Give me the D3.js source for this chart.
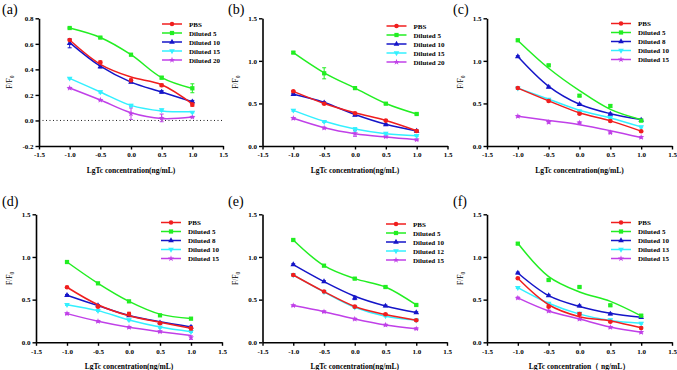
<!DOCTYPE html>
<html><head><meta charset="utf-8">
<script src="https://cdn.jsdelivr.net/npm/d3@7"></script>
<style>
body{margin:0;background:#fff;}
svg{display:block;}
</style></head>
<body>
<svg id="chart" width="677" height="370"></svg>
<script>
// ---- data ----
const xValues = [-1, -0.5, 0, 0.5, 1];
const xTicks = [-1.5, -1, -0.5, 0, 0.5, 1, 1.5];
const yTicksA = [-0.2, 0, 0.2, 0.4, 0.6, 0.8];
const yTicksB = [0, 0.5, 1.0, 1.5];
const seriesColors = ["#f01e1e", "#22ee22", "#1515c8", "#33f0ff", "#c040e8"];
const panelLabels = ["(a)", "(b)", "(c)", "(d)", "(e)", "(f)"];
const xTitles = ["LgTc concentration(ng/mL)", "LgTc concentration(ng/mL)", "LgTc concentration(ng/mL)",
                 "LgTc concentration(ng/mL)", "LgTc concentration(ng/mL)", "LgTc concentration（ ng/mL）"];

const aNames = ["PBS", "Diluted 5", "Diluted 10", "Diluted 15", "Diluted 20"];
const aPoints = [[0.63, 0.455, 0.314, 0.275, 0.124],
                 [0.724, 0.649, 0.515, 0.335, 0.252],
                 [0.604, 0.421, 0.30, 0.223, 0.147],
                 [0.33, 0.223, 0.118, 0.082, 0.064],
                 [0.254, 0.16, 0.053, 0.02, 0.027]];
const aFit = [[0.63, 0.44, 0.34, 0.28, 0.13],
              [0.724, 0.65, 0.515, 0.335, 0.25],
              [0.61, 0.425, 0.30, 0.223, 0.147],
              [0.33, 0.223, 0.118, 0.075, 0.068],
              [0.254, 0.16, 0.06, 0.015, 0.027]];
const aErr = [[0.005, 0.01, 0.01, 0.01, 0.012],
              [0.005, 0.005, 0.008, 0.01, 0.035],
              [0.035, 0.01, 0.005, 0.01, 0.01],
              [0.005, 0.008, 0.008, 0.008, 0.005],
              [0.005, 0.005, 0.045, 0.03, 0.005]];

const bNames = ["PBS", "Diluted 5", "Diluted 10", "Diluted 15", "Diluted 20"];
const bPoints = [[0.642, 0.497, 0.384, 0.298, 0.176],
                 [1.097, 0.854, 0.68, 0.497, 0.376],
                 [0.607, 0.509, 0.364, 0.25, 0.176],
                 [0.419, 0.286, 0.196, 0.149, 0.121],
                 [0.325, 0.212, 0.149, 0.11, 0.074]];
const bFit = [[0.642, 0.50, 0.39, 0.30, 0.18],
              [1.097, 0.86, 0.68, 0.50, 0.376],
              [0.607, 0.512, 0.37, 0.255, 0.176],
              [0.419, 0.29, 0.20, 0.145, 0.121],
              [0.325, 0.215, 0.145, 0.105, 0.074]];
const bErr = [[0.01, 0.01, 0.01, 0.01, 0.01],
              [0.01, 0.065, 0.01, 0.01, 0.01],
              [0.01, 0.01, 0.01, 0.01, 0.01],
              [0.01, 0.01, 0.02, 0.01, 0.01],
              [0.01, 0.01, 0.035, 0.01, 0.01]];

const cNames = ["PBS", "Diluted 5", "Diluted 8", "Diluted 10", "Diluted 15"];
const cPoints = [[0.68, 0.529, 0.38, 0.294, 0.172],
                 [1.242, 0.948, 0.591, 0.47, 0.298],
                 [1.05, 0.693, 0.49, 0.376, 0.305],
                 [0.68, 0.548, 0.41, 0.333, 0.223],
                 [0.349, 0.278, 0.274, 0.157, 0.102]];
const cFit = [[0.68, 0.53, 0.39, 0.295, 0.175],
              [1.24, 0.913, 0.65, 0.43, 0.31],
              [1.05, 0.70, 0.49, 0.38, 0.31],
              [0.68, 0.55, 0.42, 0.33, 0.225],
              [0.35, 0.30, 0.25, 0.18, 0.10]];
const cErr = [[0.01, 0.01, 0.01, 0.01, 0.01],
              [0.01, 0.01, 0.01, 0.015, 0.01],
              [0.01, 0.01, 0.01, 0.01, 0.01],
              [0.01, 0.01, 0.01, 0.01, 0.01],
              [0.01, 0.01, 0.01, 0.01, 0.01]];

const dNames = ["PBS", "Diluted 5", "Diluted 8", "Diluted 10", "Diluted 15"];
const dPoints = [[0.645, 0.418, 0.332, 0.223, 0.164],
                 [0.941, 0.691, 0.48, 0.316, 0.277],
                 [0.551, 0.43, 0.313, 0.23, 0.18],
                 [0.441, 0.371, 0.262, 0.176, 0.125],
                 [0.336, 0.246, 0.176, 0.125, 0.055]];
const dFit = [[0.645, 0.44, 0.31, 0.235, 0.165],
              [0.941, 0.691, 0.48, 0.33, 0.28],
              [0.551, 0.43, 0.315, 0.24, 0.18],
              [0.441, 0.371, 0.262, 0.18, 0.125],
              [0.336, 0.246, 0.176, 0.125, 0.08]];
const dErr = [[0.01, 0.01, 0.02, 0.01, 0.02],
              [0.01, 0.01, 0.01, 0.01, 0.01],
              [0.01, 0.01, 0.01, 0.01, 0.01],
              [0.01, 0.01, 0.01, 0.01, 0.01],
              [0.01, 0.01, 0.01, 0.01, 0.02]];

const eNames = ["PBS", "Diluted 5", "Diluted 10", "Diluted 12", "Diluted 15"];
const ePoints = [[0.789, 0.594, 0.418, 0.328, 0.258],
                 [1.199, 0.898, 0.746, 0.648, 0.4375],
                 [0.91, 0.711, 0.52, 0.426, 0.348],
                 [0.79, 0.59, 0.41, 0.31, 0.26],
                 [0.43, 0.359, 0.273, 0.203, 0.16]];
const eFit = [[0.789, 0.594, 0.42, 0.325, 0.258],
              [1.199, 0.898, 0.746, 0.648, 0.4375],
              [0.91, 0.711, 0.54, 0.426, 0.348],
              [0.79, 0.59, 0.41, 0.305, 0.26],
              [0.43, 0.359, 0.273, 0.203, 0.16]];
const eErr = [[0.01, 0.01, 0.01, 0.01, 0.01],
              [0.01, 0.01, 0.01, 0.01, 0.01],
              [0.01, 0.01, 0.02, 0.01, 0.01],
              [0.01, 0.01, 0.01, 0.01, 0.01],
              [0.01, 0.01, 0.01, 0.01, 0.01]];

const fNames = ["PBS", "Diluted 5", "Diluted 10", "Diluted 13", "Diluted 15"];
const fPoints = [[0.75, 0.418, 0.332, 0.242, 0.168],
                 [1.156, 0.73, 0.648, 0.434, 0.3125],
                 [0.8125, 0.547, 0.426, 0.332, 0.293],
                 [0.64, 0.457, 0.34, 0.262, 0.223],
                 [0.52, 0.367, 0.273, 0.176, 0.117]];
const fFit = [[0.75, 0.44, 0.30, 0.25, 0.17],
              [1.16, 0.77, 0.59, 0.48, 0.31],
              [0.8125, 0.547, 0.42, 0.34, 0.293],
              [0.64, 0.457, 0.33, 0.255, 0.223],
              [0.52, 0.367, 0.273, 0.18, 0.117]];
const fErr = [[0.01, 0.01, 0.015, 0.01, 0.01],
              [0.01, 0.01, 0.01, 0.01, 0.01],
              [0.01, 0.01, 0.01, 0.01, 0.01],
              [0.01, 0.01, 0.01, 0.01, 0.01],
              [0.01, 0.01, 0.01, 0.01, 0.01]];

// ---- layout (positions only) ----
const layouts = [
  {x0: 39, x1: 223, y0: 18.3, y1: 146, yDom: [-0.2, 0.8], yTicks: yTicksA, names: aNames, pts: aPoints, fit: aFit, err: aErr, zero: true, lx: 2, ly: 14, tx: 12, legY: 24},
  {x0: 262.5, x1: 447.5, y0: 18.3, y1: 146, yDom: [0, 1.5], yTicks: yTicksB, names: bNames, pts: bPoints, fit: bFit, err: bErr, zero: false, lx: 228, ly: 14, tx: 238, legY: 26},
  {x0: 487, x1: 672, y0: 18.3, y1: 146, yDom: [0, 1.5], yTicks: yTicksB, names: cNames, pts: cPoints, fit: cFit, err: cErr, zero: false, lx: 453, ly: 14, tx: 463, legY: 23.5},
  {x0: 36, x1: 222, y0: 214.3, y1: 342.3, yDom: [0, 1.5], yTicks: yTicksB, names: dNames, pts: dPoints, fit: dFit, err: dErr, zero: false, lx: 2, ly: 206, tx: 12, legY: 222.5},
  {x0: 262.5, x1: 447, y0: 214.3, y1: 342.3, yDom: [0, 1.5], yTicks: yTicksB, names: eNames, pts: ePoints, fit: eFit, err: eErr, zero: false, lx: 228, ly: 206, tx: 238, legY: 224},
  {x0: 487, x1: 672, y0: 214.3, y1: 342.3, yDom: [0, 1.5], yTicks: yTicksB, names: fNames, pts: fPoints, fit: fFit, err: fErr, zero: false, lx: 453, ly: 206, tx: 463, legY: 222.5}
];

const symbols = [d3.symbolCircle, d3.symbolSquare, d3.symbolTriangle, d3.symbolTriangle, d3.symbolStar];
const symSizes = [16, 18, 14, 14, 12];
const symRot = [0, 0, 0, 180, 0];
const fmt = d => (Math.abs(d) < 1e-9 ? 0 : d).toFixed(1);
const serif = "'Liberation Serif','Times New Roman',serif";

const svg = d3.select("#chart");

layouts.forEach((L, pi) => {
  const x = d3.scaleLinear().domain([-1.5, 1.5]).range([L.x0, L.x1]);
  const y = d3.scaleLinear().domain(L.yDom).range([L.y1, L.y0]);
  const g = svg.append("g");

  // panel label
  svg.append("text").attr("x", L.lx).attr("y", L.ly)
    .attr("font-family", serif).attr("font-size", 14).text(panelLabels[pi]);

  // zero dotted line
  if (L.zero) {
    g.append("line").attr("x1", x(-1.5)).attr("x2", x(1.5)).attr("y1", y(0)).attr("y2", y(0))
      .attr("stroke", "#222").attr("stroke-width", 1).attr("stroke-dasharray", "1,2.5");
  }

  // axes
  const xa = g.append("g").attr("transform", `translate(0,${L.y1})`)
    .call(d3.axisBottom(x).tickValues(xTicks).tickFormat(fmt).tickSize(3.5).tickSizeOuter(0).tickPadding(3));
  const ya = g.append("g").attr("transform", `translate(${L.x0},0)`)
    .call(d3.axisLeft(y).tickValues(L.yTicks).tickFormat(fmt).tickSize(3.5).tickSizeOuter(0).tickPadding(2));
  [xa, ya].forEach(a => {
    a.select(".domain").attr("stroke", "#000").attr("stroke-width", 1.6);
    a.selectAll(".tick line").attr("stroke", "#000").attr("stroke-width", 1.4);
    a.selectAll(".tick text").attr("font-family", serif).attr("font-size", 7)
      .attr("font-weight", "bold").attr("fill", "#000");
  });

  // axis titles
  g.append("text").attr("x", (L.x0 + L.x1) / 2).attr("y", L.y1 + 27)
    .attr("text-anchor", "middle").attr("font-family", serif).attr("font-weight", "bold")
    .attr("font-size", 7.5).text(xTitles[pi]);
  const yt = g.append("text").attr("transform", `translate(${L.tx},${(L.y0 + L.y1) / 2}) rotate(-90)`)
    .attr("text-anchor", "middle").attr("font-family", serif).attr("font-size", 7.5);
  yt.append("tspan").text("F/F");
  yt.append("tspan").attr("font-size", 5.5).attr("dy", 1.8).text("0");

  const line = d3.line().x((d, i) => x(xValues[i])).y(d => y(d)).curve(d3.curveCatmullRom.alpha(0.5));

  // draw series in reverse order
  for (let s = L.names.length - 1; s >= 0; s--) {
    const col = seriesColors[s];
    g.append("path").attr("d", line(L.fit[s])).attr("fill", "none")
      .attr("stroke", col).attr("stroke-width", 1.5);
    L.pts[s].forEach((v, i) => {
      const e = L.err[s][i];
      const cx = x(xValues[i]);
      g.append("line").attr("x1", cx).attr("x2", cx).attr("y1", y(v - e)).attr("y2", y(v + e))
        .attr("stroke", col).attr("stroke-width", 1);
      [v - e, v + e].forEach(ev => g.append("line").attr("x1", cx - 2).attr("x2", cx + 2)
        .attr("y1", y(ev)).attr("y2", y(ev)).attr("stroke", col).attr("stroke-width", 1));
      g.append("path").attr("d", d3.symbol().type(symbols[s]).size(symSizes[s])())
        .attr("transform", `translate(${cx},${y(v)}) rotate(${symRot[s]})`).attr("fill", col);
    });
  }

  // legend
  L.names.forEach((n, s) => {
    const ly = L.legY + s * 9;
    const lx = L.x1 - 61;
    g.append("line").attr("x1", lx).attr("x2", lx + 20).attr("y1", ly).attr("y2", ly)
      .attr("stroke", seriesColors[s]).attr("stroke-width", 1.5);
    g.append("path").attr("d", d3.symbol().type(symbols[s]).size(symSizes[s])())
      .attr("transform", `translate(${lx + 10},${ly}) rotate(${symRot[s]})`).attr("fill", seriesColors[s]);
    g.append("text").attr("x", L.x1 - 34).attr("y", ly + 2.5).attr("font-family", serif)
      .attr("font-weight", "bold").attr("font-size", 7).text(n);
  });
});
</script>
</body></html>
